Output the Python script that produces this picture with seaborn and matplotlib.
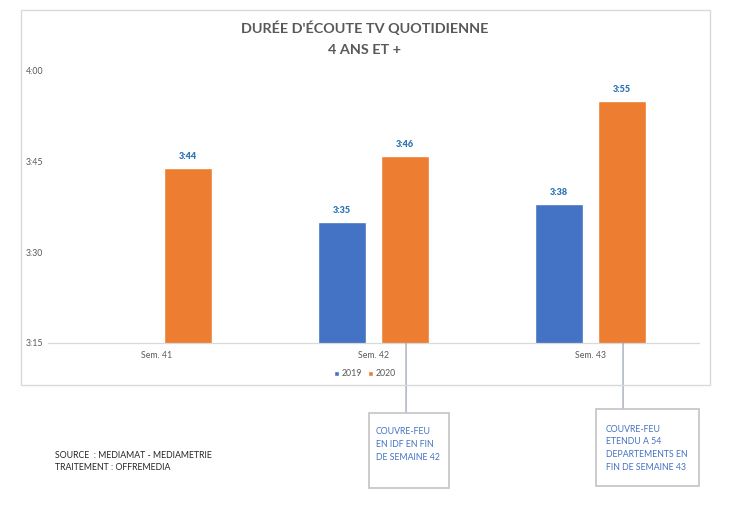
import matplotlib
matplotlib.use("Agg")
import matplotlib.pyplot as plt
import seaborn as sns
import numpy as np
import pandas as pd
from matplotlib.patches import Rectangle

weeks = ["Sem. 41", "Sem. 42", "Sem. 43"]
years = ["2019", "2020"]
minutes_2019 = [np.nan, 215, 218]   # minutes (3:35, 3:38)
minutes_2020 = [224, 226, 235]      # minutes (3:44, 3:46, 3:55)
ytick_vals = [195, 210, 225, 240]
ytick_labels = ["3:15", "3:30", "3:45", "4:00"]
colors = {"2019": "#4472C4", "2020": "#ED7D31"}

df = pd.DataFrame({
    "week": weeks * 2,
    "year": ["2019"] * 3 + ["2020"] * 3,
    "minutes": minutes_2019 + minutes_2020,
})

sns.set_theme(style="white")
plt.rcParams["font.family"] = ["Lato", "DejaVu Sans"]

W, H = 750, 518
fig = plt.figure(figsize=(7.5, 5.18), dpi=100)
ax = fig.add_axes([48 / W, 1 - 343 / H, (699 - 48) / W, (343 - 71) / H])

sns.barplot(data=df, x="week", y="minutes", hue="year", palette=colors,
            width=0.58, gap=0.25, ax=ax, legend=True, saturation=1)

ax.set_ylim(195, 240)
ax.set_xlim(-0.5, 2.5)
ax.set_yticks(ytick_vals)
ax.set_yticklabels(ytick_labels)
ax.set_xlabel("")
ax.set_ylabel("")
for s in ["top", "right", "left"]:
    ax.spines[s].set_visible(False)
ax.spines["bottom"].set_color("#D9D9D9")
ax.spines["bottom"].set_linewidth(0.9)
ax.tick_params(axis="both", length=0, labelsize=6.3, labelcolor="#595959")
ax.tick_params(axis="x", pad=6)
ax.tick_params(axis="y", pad=2)
for lbl in ax.get_yticklabels():
    lbl.set_horizontalalignment("left")
    lbl.set_x(-0.0305)

def fmt(v):
    v = int(round(v))
    return f"{v // 60}:{v % 60:02d}"

for cont in ax.containers:
    labels = ["" if np.isnan(v) else fmt(v) for v in cont.datavalues]
    ax.bar_label(cont, labels=labels, padding=5, fontsize=6.5,
                 fontweight="heavy", color="#2E75B6")

leg = ax.legend(loc="upper center", bbox_to_anchor=(0.487, -0.068), ncol=2,
                frameon=False, fontsize=6.3, handlelength=0.6, handleheight=0.6,
                handletextpad=0.3, columnspacing=0.6)
for t in leg.get_texts():
    t.set_color("#595959")

# title
fig.text(365 / W, 1 - 28 / H, "DURÉE D'ÉCOUTE TV QUOTIDIENNE", ha="center",
         va="center", fontsize=10.4, fontweight="bold", color="#595959")
fig.text(365 / W, 1 - 50 / H, "4 ANS ET +", ha="center", va="center",
         fontsize=10.4, fontweight="bold", color="#595959")

# chart frame
fig.patches.append(Rectangle((21 / W, 1 - 385 / H), (710 - 21) / W, (385 - 10) / H,
                             transform=fig.transFigure, fill=False,
                             edgecolor="#D9D9D9", linewidth=1.0))

# callout lines and boxes
def callout(xdata, box, lines, text_x, text_y0, step=12.8):
    x0, y0, x1, y1 = box
    ax.annotate("", xy=(xdata, 195), xycoords="data",
                xytext=(ax.transData.transform((xdata, 195))[0] / fig.dpi / fig.get_figwidth(),
                        1 - y0 / H),
                textcoords="figure fraction",
                arrowprops=dict(arrowstyle="-", color="#97A3B4", lw=0.9,
                                shrinkA=0, shrinkB=0),
                annotation_clip=False)
    fig.patches.append(Rectangle((x0 / W, 1 - y1 / H), (x1 - x0) / W, (y1 - y0) / H,
                                 transform=fig.transFigure, fill=True,
                                 facecolor="white", edgecolor="#C4C4C4",
                                 linewidth=1.2, zorder=5))
    for i, ln in enumerate(lines):
        fig.text(text_x / W, 1 - (text_y0 + i * step) / H, ln, ha="left",
                 va="center", fontsize=6.3, color="#4472C4", zorder=6)

fig.canvas.draw()
callout(1.15, (369, 413, 449, 488),
        ["COUVRE-FEU", "EN IDF EN FIN", "DE SEMAINE 42"], 376, 432)
callout(2.15, (596, 409, 699, 486),
        ["COUVRE-FEU", "ETENDU A 54", "DEPARTEMENTS EN", "FIN DE SEMAINE 43"], 606, 429)

# source
fig.text(55 / W, 1 - 455 / H, "SOURCE  : MEDIAMAT - MEDIAMETRIE", ha="left",
         va="center", fontsize=6.3, color="#262626")
fig.text(55 / W, 1 - 468 / H, "TRAITEMENT : OFFREMEDIA", ha="left",
         va="center", fontsize=6.3, color="#262626")

fig.savefig("out.png", dpi=100)
